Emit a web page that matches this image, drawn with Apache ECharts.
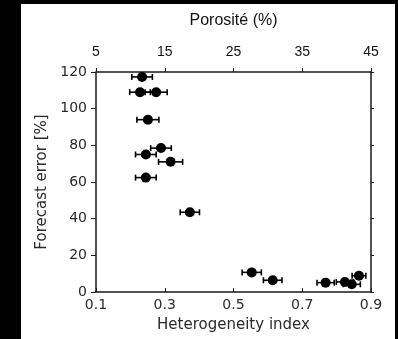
<!DOCTYPE html>
<html>
<head>
<meta charset="utf-8">
<script src="https://cdn.jsdelivr.net/npm/echarts@6/dist/echarts.min.js"></script>
<style>
html,body{margin:0;padding:0;background:#000;width:398px;height:339px;overflow:hidden;}
#bg{position:absolute;left:21px;top:4px;width:374px;height:335px;background:#fff;}
#chart{position:absolute;left:0;top:0;width:398px;height:339px;}
</style>
</head>
<body>
<div id="bg"></div>
<div id="chart"></div>
<script>
// Heterogeneity index (x), forecast error % (y), horizontal error half-width
const hetIndex = [0.234, 0.228, 0.275, 0.251, 0.289, 0.245, 0.317, 0.245, 0.373, 0.553, 0.614, 0.768, 0.824, 0.844, 0.865];
const forecastError = [117.3, 109, 109, 94, 78.5, 75, 71, 62.4, 43.5, 10.7, 6.4, 5.1, 5.5, 4.2, 8.9];
const xErr = [0.03, 0.03, 0.032, 0.032, 0.03, 0.03, 0.035, 0.03, 0.028, 0.028, 0.027, 0.025, 0.025, 0.025, 0.02];
const bottomTicks = [0.1, 0.3, 0.5, 0.7, 0.9];
const topTicks = [5, 15, 25, 35, 45];
const yTicks = [0, 20, 40, 60, 80, 100, 120];

const pts = hetIndex.map((x, i) => [x, forecastError[i]]);
const errData = hetIndex.map((x, i) => [x, forecastError[i], xErr[i]]);

const chart = echarts.init(document.getElementById('chart'), null, {renderer: 'canvas'});
const axisCol = '#1a1a1a';
chart.setOption({
  backgroundColor: 'transparent',
  animation: false,
  grid: {left: 96, right: 27, top: 72, bottom: 47},
  xAxis: [{
    type: 'value', position: 'bottom',
    min: bottomTicks[0], max: bottomTicks[bottomTicks.length - 1], interval: 0.2,
    name: 'Heterogeneity index', nameLocation: 'middle', nameGap: 26,
    nameTextStyle: {fontFamily: 'DejaVu Sans', fontSize: 15, color: '#2a2a2a'},
    axisLine: {show: true, onZero: false, lineStyle: {color: axisCol, width: 1.5}},
    axisTick: {show: true, inside: true, length: 4, lineStyle: {color: axisCol, width: 1}},
    axisLabel: {fontFamily: 'DejaVu Sans', fontSize: 14, color: '#2a2a2a', margin: 6,
      formatter: v => v.toFixed(1)},
    splitLine: {show: false}
  }, {
    type: 'value', position: 'top',
    min: topTicks[0], max: topTicks[topTicks.length - 1], interval: 10,
    name: 'Porosité (%)', nameLocation: 'middle', nameGap: 43,
    nameTextStyle: {fontFamily: 'Liberation Sans', fontSize: 16, color: '#111'},
    axisLine: {show: true, onZero: false, lineStyle: {color: axisCol, width: 1.5}},
    axisTick: {show: true, inside: false, length: 4, lineStyle: {color: axisCol, width: 1}},
    axisLabel: {fontFamily: 'Liberation Sans', fontSize: 14, color: '#111', margin: 13},
    splitLine: {show: false}
  }],
  yAxis: [{
    type: 'value', position: 'left',
    min: yTicks[0], max: yTicks[yTicks.length - 1], interval: 20,
    name: 'Forecast error [%]', nameLocation: 'middle', nameGap: 44, nameRotate: 90,
    nameTextStyle: {fontFamily: 'DejaVu Sans', fontSize: 15, color: '#2a2a2a'},
    axisLine: {show: true, onZero: false, lineStyle: {color: axisCol, width: 1.5}},
    axisTick: {show: true, inside: false, length: 5, lineStyle: {color: axisCol, width: 1}},
    axisLabel: {fontFamily: 'DejaVu Sans', fontSize: 14, color: '#2a2a2a', margin: 9},
    splitLine: {show: false}
  }, {
    type: 'value', position: 'right',
    min: yTicks[0], max: yTicks[yTicks.length - 1], interval: 20,
    axisLine: {show: true, onZero: false, lineStyle: {color: axisCol, width: 1.5}},
    axisTick: {show: true, inside: false, length: 3, lineStyle: {color: axisCol, width: 1}},
    axisLabel: {show: false},
    splitLine: {show: false}
  }],
  series: [{
    type: 'custom',
    xAxisIndex: 0, yAxisIndex: 0,
    data: errData,
    renderItem: function (params, api) {
      const x = api.value(0), y = api.value(1), e = api.value(2);
      const p1 = api.coord([x - e, y]);
      const p2 = api.coord([x + e, y]);
      const cap = 3;
      const st = {stroke: '#000', lineWidth: 1.6};
      return {type: 'group', children: [
        {type: 'line', shape: {x1: p1[0], y1: p1[1], x2: p2[0], y2: p2[1]}, style: st},
        {type: 'line', shape: {x1: p1[0], y1: p1[1] - cap, x2: p1[0], y2: p1[1] + cap}, style: st},
        {type: 'line', shape: {x1: p2[0], y1: p2[1] - cap, x2: p2[0], y2: p2[1] + cap}, style: st}
      ]};
    },
    z: 2
  }, {
    type: 'scatter',
    xAxisIndex: 0, yAxisIndex: 0,
    data: pts,
    symbol: 'circle', symbolSize: 10,
    itemStyle: {color: '#000', opacity: 1},
    z: 3
  }]
});
</script>
</body>
</html>
